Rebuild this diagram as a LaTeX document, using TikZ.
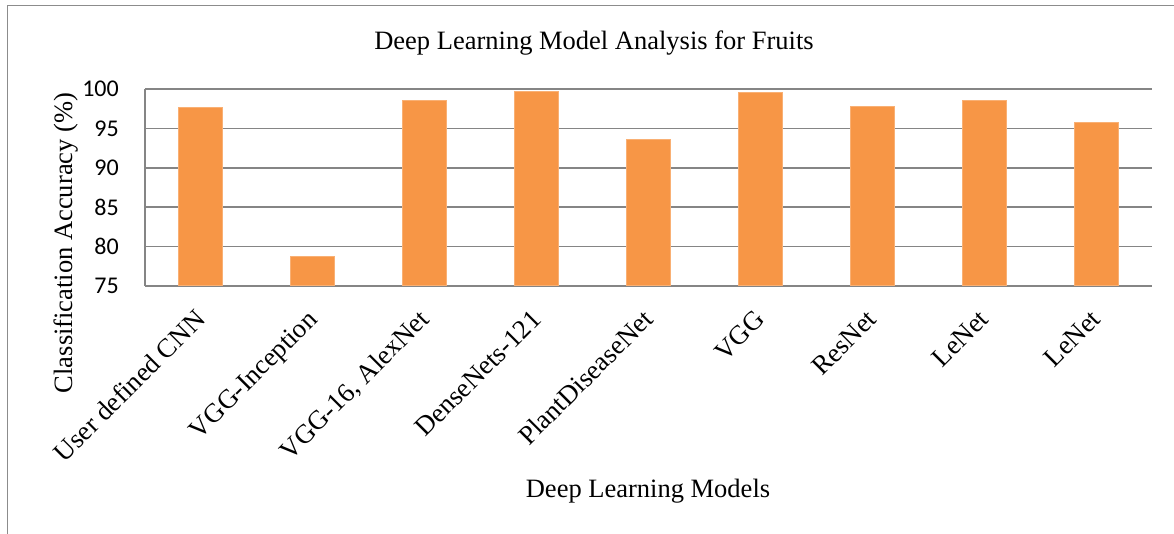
\documentclass[tikz,border=0pt]{standalone}
\usepackage{fontspec}
\setmainfont{Liberation Serif}
\newfontfamily\numfont{Carlito}
\begin{document}
\begin{tikzpicture}[x=1pt,y=-1pt,
  frameline/.style={draw=black!45,line width=1.5pt},
  gridline/.style={draw=black!48,line width=1.5pt},
  bar/.style={fill=barorange,draw=barorange!75!white,line width=1pt},
  ticklab/.style={anchor=east,font=\numfont\fontsize{24}{28}\selectfont,inner sep=0pt},
  catlab/.style={anchor=base east,rotate=45,font=\fontsize{26.8}{30}\selectfont,inner sep=0pt},
  ttl/.style={anchor=base,font=\fontsize{26.5}{30}\selectfont,inner sep=0pt}]
\definecolor{barorange}{HTML}{F79646}
\useasboundingbox (0,0) rectangle (1174,534);
\fill[white] (0,0) rectangle (1174,534);
% frame
\coordinate (fb) at (7.5,534);
\coordinate (fc) at (7.5,5.5);
\coordinate (fr) at (1174,5.5);
\draw[frameline] (fb) -- (fc) -- (fr);
% gridlines
\foreach \v/\lab in {75/75,80/80,85/85,90/90,95/95,100/100}{
  \pgfmathsetmacro{\yy}{286-(\v-75)*7.88}
  \coordinate (gl\v) at (145,\yy);
  \coordinate (gr\v) at (1152,\yy);
  \draw[gridline] (gl\v) -- (gr\v);
  \node[ticklab] (t\v) at (119,\yy) {\lab};
}
\draw[gridline] (gl75) -- (gl100);
% bars
\foreach \i/\val/\name in {0/97.6/User defined CNN,1/78.7/VGG-Inception,2/98.56/{VGG-16, AlexNet},3/99.66/DenseNets-121,4/93.6/PlantDiseaseNet,5/99.5/VGG,6/97.8/ResNet,7/98.56/LeNet,8/95.72/LeNet}{
  \pgfmathsetmacro{\cx}{145+111.9*(\i+0.5)}
  \pgfmathsetmacro{\ty}{286-(\val-75)*7.88}
  \path[bar] (\cx-22,285.5) rectangle (\cx+22,\ty);
  \node[catlab] (c\i) at (\cx+6,321) {\name};
}
\node[ttl] (title) at (594,50) {Deep Learning Model Analysis for Fruits};
\node[ttl] (xlab) at (648,497) {Deep Learning Models};
\node[ttl,rotate=90] (ylab) at (72,243) {Classification Accuracy (\%)};
\end{tikzpicture}
\end{document}
